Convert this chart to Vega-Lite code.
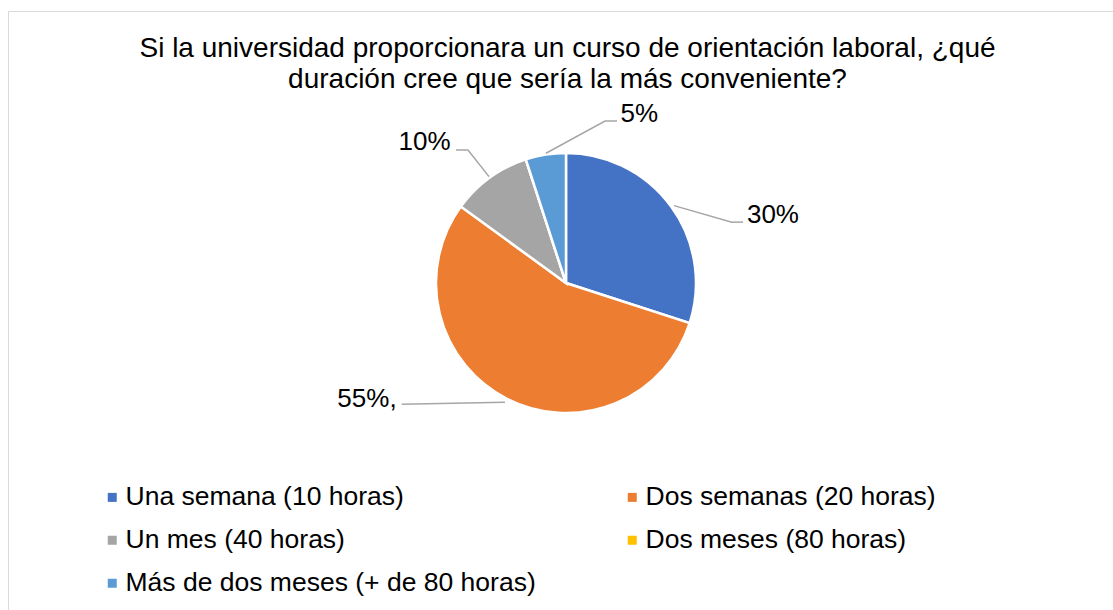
{
  "$schema": "https://vega.github.io/schema/vega-lite/v6.json",
  "width": 1105,
  "height": 599,
  "autosize": {"type": "none"},
  "padding": {"left": 8, "top": 11, "right": 0, "bottom": 0},
  "background": "white",
  "title": {
    "text": ["Si la universidad proporcionara un curso de orientación laboral, ¿qué", "duración cree que sería la más conveniente?"],
    "fontSize": 28,
    "font": "Liberation Sans",
    "fontWeight": "normal",
    "color": "#000000",
    "anchor": "middle",
    "lineHeight": 31,
    "offset": -83,
    "dx": 7
  },
  "datasets": {
    "slices": [
      {"cat": "Una semana (10 horas)", "value": 30, "order": 1},
      {"cat": "Dos semanas (20 horas)", "value": 55, "order": 2},
      {"cat": "Un mes (40 horas)", "value": 10, "order": 3},
      {"cat": "Dos meses (80 horas)", "value": 0, "order": 4},
      {"cat": "Más de dos meses (+ de 80 horas)", "value": 5, "order": 5}
    ],
    "labels": [
      {"label": "30%", "x": 1.592, "y": 0.4615},
      {"label": "55%,", "x": -1.531, "y": -0.9515},
      {"label": "10%", "x": -1.088, "y": 1.023},
      {"label": "5%", "x": 0.564, "y": 1.241}
    ],
    "leaders": [
      {"id": "a", "seq": 1, "x": 0.831, "y": 0.595},
      {"id": "a", "seq": 2, "x": 1.275, "y": 0.467},
      {"id": "a", "seq": 3, "x": 1.362, "y": 0.469},
      {"id": "b", "seq": 1, "x": -0.469, "y": -0.918},
      {"id": "b", "seq": 2, "x": -1.264, "y": -0.933},
      {"id": "c", "seq": 1, "x": -0.592, "y": 0.818},
      {"id": "c", "seq": 2, "x": -0.754, "y": 1.023},
      {"id": "c", "seq": 3, "x": -0.846, "y": 1.023},
      {"id": "d", "seq": 1, "x": -0.154, "y": 0.998},
      {"id": "d", "seq": 2, "x": 0.3, "y": 1.246},
      {"id": "d", "seq": 3, "x": 0.392, "y": 1.246}
    ]
  },
  "layer": [
    {
      "data": {"name": "slices"},
      "mark": {
        "type": "arc",
        "outerRadius": 130,
        "stroke": "white",
        "strokeWidth": 2.5,
        "x": {"expr": "scale('x', 0)"},
        "y": {"expr": "scale('y', 0)"}
      },
      "encoding": {
        "theta": {"field": "value", "type": "quantitative", "stack": true},
        "order": {"field": "order", "type": "quantitative"},
        "color": {
          "field": "cat",
          "type": "nominal",
          "scale": {
            "domain": ["Una semana (10 horas)", "Dos semanas (20 horas)", "Un mes (40 horas)", "Dos meses (80 horas)", "Más de dos meses (+ de 80 horas)"],
            "range": ["#4472C4", "#ED7D31", "#A5A5A5", "#FFC000", "#5B9BD5"]
          },
          "legend": {
            "title": null,
            "orient": "none",
            "direction": "horizontal",
            "legendX": 91,
            "legendY": 473,
            "columns": 2,
            "columnPadding": 83,
            "rowPadding": 16,
            "symbolType": "square",
            "symbolSize": 81,
            "symbolStrokeWidth": 0,
            "labelFontSize": 26.5,
            "labelFont": "Liberation Sans",
            "labelColor": "#000000",
            "labelOffset": 0,
            "labelLimit": 0
          }
        }
      }
    },
    {
      "data": {"name": "leaders"},
      "mark": {"type": "line", "color": "#A6A6A6", "strokeWidth": 1.5},
      "encoding": {
        "x": {"field": "x", "type": "quantitative", "scale": {"domain": [-4.2923, 4.2077], "nice": false, "zero": false}, "axis": null},
        "y": {"field": "y", "type": "quantitative", "scale": {"domain": [-2.5154, 2.0923], "nice": false, "zero": false}, "axis": null},
        "detail": {"field": "id", "type": "nominal"},
        "order": {"field": "seq", "type": "quantitative"}
      }
    },
    {
      "data": {"name": "labels"},
      "mark": {"type": "text", "fontSize": 26, "font": "Liberation Sans", "color": "#000000", "align": "center", "baseline": "alphabetic"},
      "encoding": {
        "x": {"field": "x", "type": "quantitative"},
        "y": {"field": "y", "type": "quantitative"},
        "text": {"field": "label"}
      }
    }
  ],
  "config": {
    "view": {"stroke": "#D9D9D9", "strokeWidth": 1}
  }
}
